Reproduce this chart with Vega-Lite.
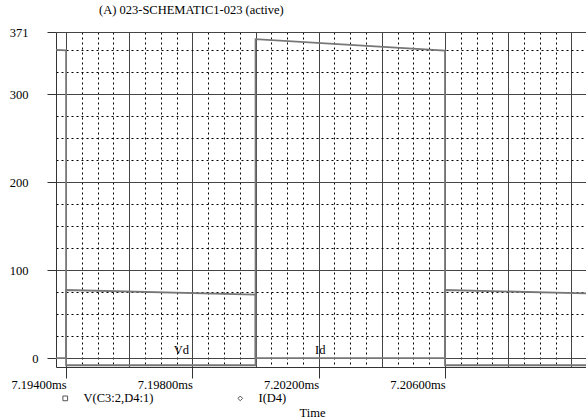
{
  "$schema": "https://vega.github.io/schema/vega-lite/v6.json",
  "width": 530,
  "height": 335,
  "autosize": {"type": "none"},
  "padding": {"left": 56, "top": 32, "right": 0, "bottom": 52},
  "background": "white",
  "config": {"view": {"stroke": null}, "font": "Liberation Serif"},
  "title": {"text": "(A) 023-SCHEMATIC1-023 (active)", "anchor": "start", "frame": "group", "dx": 43, "offset": 10, "fontSize": 12.5, "fontWeight": "normal", "font": "Liberation Serif", "color": "black"},
  "datasets": {
    "traces": [
      {"series": "V(C3:2,D4:1)", "i": 0, "t": 7.19368, "v": 350.6},
      {"series": "V(C3:2,D4:1)", "i": 1, "t": 7.194, "v": 350},
      {"series": "V(C3:2,D4:1)", "i": 2, "t": 7.194, "v": -8},
      {"series": "V(C3:2,D4:1)", "i": 3, "t": 7.2, "v": -8},
      {"series": "V(C3:2,D4:1)", "i": 4, "t": 7.2, "v": 362.8},
      {"series": "V(C3:2,D4:1)", "i": 5, "t": 7.206, "v": 349.8},
      {"series": "V(C3:2,D4:1)", "i": 6, "t": 7.206, "v": -8},
      {"series": "V(C3:2,D4:1)", "i": 7, "t": 7.2105, "v": -8},
      {"series": "I(D4)", "i": 0, "t": 7.19368, "v": 0},
      {"series": "I(D4)", "i": 1, "t": 7.194, "v": 0},
      {"series": "I(D4)", "i": 2, "t": 7.194, "v": 77.6},
      {"series": "I(D4)", "i": 3, "t": 7.2, "v": 72.3},
      {"series": "I(D4)", "i": 4, "t": 7.2, "v": 0},
      {"series": "I(D4)", "i": 5, "t": 7.206, "v": 0},
      {"series": "I(D4)", "i": 6, "t": 7.206, "v": 77.6},
      {"series": "I(D4)", "i": 7, "t": 7.2105, "v": 73.7}
    ],
    "labels": [
      {"label": "Vd", "t": 7.19765, "v": 9},
      {"label": "Id", "t": 7.20205, "v": 9}
    ]
  },
  "encoding": {
    "x": {
      "field": "t", "type": "quantitative",
      "scale": {"domain": [7.19368, 7.210465], "nice": false, "zero": false},
      "axis": {
        "values": [7.194, 7.1945, 7.195, 7.1955, 7.196, 7.1965, 7.197, 7.1975, 7.198, 7.1985, 7.199, 7.1995, 7.2, 7.2005, 7.201, 7.2015, 7.202, 7.2025, 7.203, 7.2035, 7.204, 7.2045, 7.205, 7.2055, 7.206, 7.2065, 7.207, 7.2075, 7.208, 7.2085, 7.209, 7.2095, 7.21],
        "title": "Time",
        "titleFont": "Liberation Serif", "titleFontSize": 12.5, "titleFontWeight": "normal", "titleColor": "black",
        "titleX": 256, "titleY": 45, "titleAlign": "center", "titleBaseline": "middle", "titleAnchor": null,
        "labelExpr": "(round(datum.value*2000) % 8 === 4 && datum.value < 7.209) ? format(datum.value, '.5f') + 'ms' : ''",
        "labelAlign": "right", "labelDx": 3, "labelPadding": 0, "labelBaseline": "top",
        "labelFont": "Liberation Serif", "labelFontSize": 12.5, "labelColor": "black", "labelOverlap": false, "labelFlush": false,
        "tickSize": 11, "tickColor": "#333",
        "tickOpacity": {"condition": {"test": "round(datum.value*2000) % 8 === 4 && datum.value < 7.209", "value": 1}, "value": 0},
        "domainColor": "#333", "domainWidth": 1,
        "grid": true, "gridOpacity": 1, "gridWidth": 1,
        "gridColor": {"condition": {"test": "round(datum.value*2000) % 4 === 0", "value": "#444"}, "value": "#000"},
        "gridDash": {"condition": {"test": "round(datum.value*2000) % 4 === 0", "value": []}, "value": [2, 3]}
      }
    },
    "y": {
      "field": "v", "type": "quantitative",
      "scale": {"domain": [-10, 371], "nice": false, "zero": false},
      "axis": {
        "values": [0, 25, 50, 75, 100, 125, 150, 175, 200, 225, 250, 275, 300, 325, 350, 371],
        "title": null,
        "labelExpr": "(datum.value % 100 === 0 || datum.value === 371) ? datum.label : ''",
        "labelFont": "Liberation Serif", "labelFontSize": 12.5, "labelColor": "black", "labelOverlap": false,
        "labelPadding": {"condition": {"test": "datum.value === 0", "value": 9}, "value": 19},
        "tickSize": 9, "tickColor": "#333",
        "tickOpacity": {"condition": {"test": "datum.value % 100 === 0 || datum.value === 371", "value": 1}, "value": 0},
        "domainColor": "#333", "domainWidth": 1,
        "grid": true, "gridOpacity": 1, "gridWidth": 1,
        "gridColor": {"condition": {"test": "datum.value % 100 === 0 || datum.value === 371", "value": "#444"}, "value": "#000"},
        "gridDash": {"condition": {"test": "datum.value % 100 === 0 || datum.value === 371", "value": []}, "value": [2, 3]}
      }
    }
  },
  "layer": [
    {
      "data": {"name": "traces"},
      "mark": {"type": "line", "color": "#777777", "strokeWidth": 1.8, "clip": true},
      "encoding": {
        "detail": {"field": "series"},
        "order": {"field": "i", "type": "quantitative"}
      }
    },
    {
      "data": {"name": "traces"},
      "mark": {"type": "point", "opacity": 0, "clip": true},
      "encoding": {
        "shape": {
          "field": "series", "type": "nominal",
          "scale": {"domain": ["V(C3:2,D4:1)", "I(D4)"], "range": ["square", "diamond"]},
          "legend": {
            "orient": "none", "legendX": 3, "legendY": 360, "direction": "horizontal", "title": null,
            "labelFont": "Liberation Serif", "labelFontSize": 12.5, "labelColor": "black",
            "symbolSize": 22, "symbolStrokeWidth": 1, "symbolStrokeColor": "#555", "symbolFillColor": "white", "symbolOpacity": 1,
            "labelOffset": 12, "columnPadding": 80, "padding": 0
          }
        }
      }
    },
    {
      "data": {"name": "labels"},
      "mark": {"type": "text", "font": "Liberation Serif", "fontSize": 12.5, "color": "black"},
      "encoding": {"text": {"field": "label"}}
    }
  ]
}
